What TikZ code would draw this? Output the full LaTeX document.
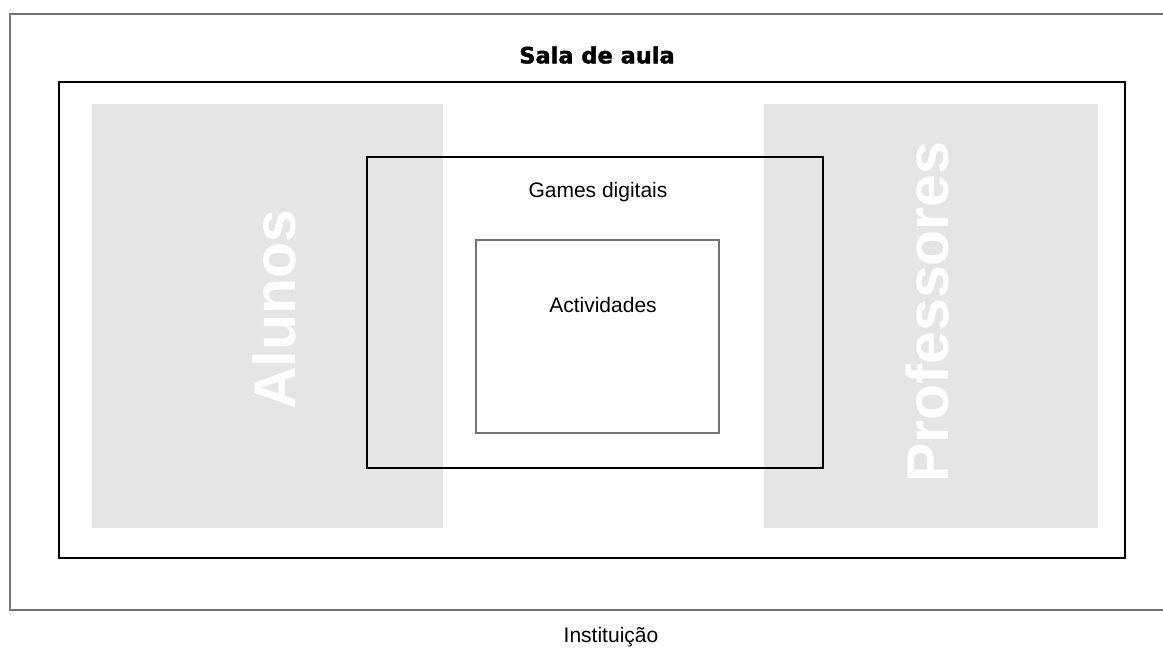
\documentclass[tikz,border=0pt]{standalone}
\usepackage{fontspec}
\setmainfont{Liberation Sans}
\newfontfamily\titlefont[BoldFeatures={FakeBold=1.6}]{DejaVu Sans}
\tikzstyle{zonebox}=[draw=none,fill=black!10,minimum width=#1]
\tikzstyle{framebox}=[draw=black,line width=2pt,inner sep=0pt]
\tikzstyle{greybox}=[draw=black!55,line width=2pt,inner sep=0pt]
\tikzstyle{plainlabel}=[inner sep=0pt,font=\fontsize{21}{24}\selectfont]
\tikzstyle{biglabel}=[inner sep=0pt,text=white,rotate=90,font=\fontsize{59}{60}\selectfont\bfseries]
\begin{document}
\begin{tikzpicture}[x=1pt,y=-1pt]
	\useasboundingbox (0,0) rectangle (1163,650);
	\clip (0,0) rectangle (1163,650);
	% instituicao
	\draw[black!55,line width=2pt] (10,14) rectangle (1185,610);
	\node[plainlabel] (inst) at (611,637) {Instituição};
	% sala de aula
	\node[zonebox=351pt,minimum height=424pt] (alunosbox) at (267.5,316) {};
	\node[zonebox=334pt,minimum height=424pt] (profbox) at (931,316) {};
	\node[framebox,minimum width=1066pt,minimum height=476pt] (sala) at (592,320) {};
	\node[inner sep=0pt,font=\titlefont\bfseries\fontsize{22.5}{26}\selectfont] (salalabel) at (597,55) {Sala de aula};
	\node[biglabel] (alunos) at (274,310) {Alunos};
	\node[biglabel] (prof) at (927,312) {Professores};
	% games e actividades
	\node[framebox,minimum width=456pt,minimum height=311pt] (games) at (595,312.5) {};
	\node[plainlabel] (gameslabel) at (598,192) {Games digitais};
	\node[greybox,minimum width=243pt,minimum height=193pt] (activ) at (597.5,336.5) {};
	\node[plainlabel] (activlabel) at (603,305) {Actividades};
\end{tikzpicture}
\end{document}
